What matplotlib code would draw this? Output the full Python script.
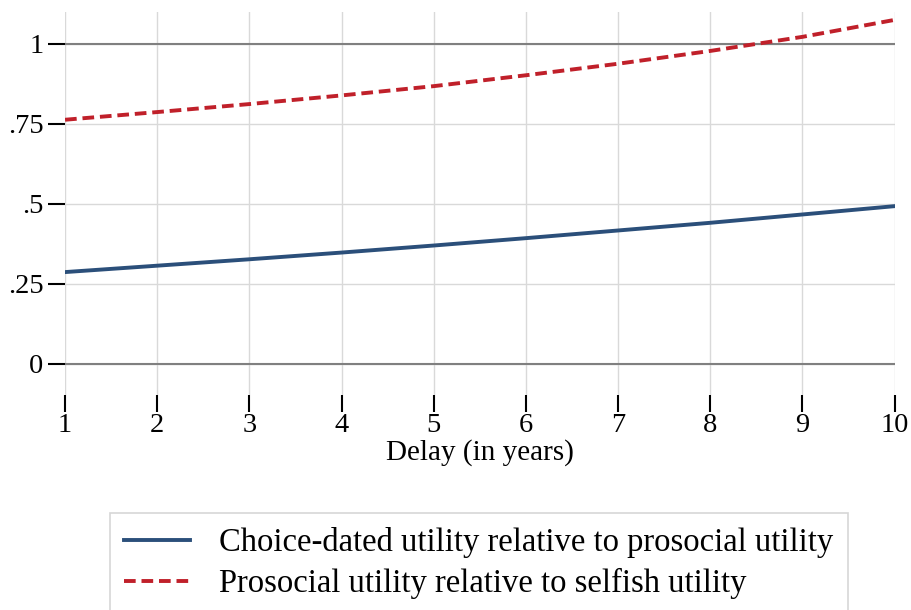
import matplotlib
matplotlib.use('Agg')
import matplotlib.pyplot as plt
import numpy as np

# delay in years
delay = [1, 2, 3, 4, 5, 6, 7, 8, 9, 10]
choice_rel_prosocial = [0.287, 0.307, 0.327, 0.348, 0.370, 0.393, 0.417, 0.441, 0.467, 0.493]
prosocial_rel_selfish = [0.763, 0.787, 0.812, 0.839, 0.868, 0.902, 0.938, 0.978, 1.022, 1.075]
yticks = [0, 0.25, 0.5, 0.75, 1]
ylabels = ['0', '.25', '.5', '.75', '1']

plt.rcParams['font.family'] = ['Liberation Serif', 'DejaVu Serif']

fig = plt.figure(figsize=(9.11, 6.10), dpi=100)
ax = fig.add_axes([0.0714, 0.3525, 0.9106, 0.628])

ax.set_xlim(1, 10)
ax.set_ylim(-0.097, 1.1)
ax.set_xticks(delay)
ax.set_yticks(yticks)
ax.set_yticklabels(ylabels)
ax.grid(True, color='#d9d9d9', linewidth=1)
ax.set_axisbelow(True)
for v in (0, 1):
    ax.axhline(v, color='#808080', linewidth=1.5, zorder=1)

ax.plot(delay, choice_rel_prosocial, color='#2b4f7a', linewidth=2.8,
        label='Choice-dated utility relative to prosocial utility', zorder=3)
ax.plot(delay, prosocial_rel_selfish, color='#c0202a', linewidth=2.8, linestyle=(0, (3, 1.5)),
        label='Prosocial utility relative to selfish utility', zorder=3)

for s in ax.spines.values():
    s.set_visible(False)
ax.tick_params(axis='both', direction='out', length=12, width=1.5, colors='black', labelsize=20.5)
ax.tick_params(axis='x', pad=1)
ax.set_xlabel('Delay (in years)', fontsize=21, labelpad=1)

leg = ax.legend(loc='upper left', bbox_to_anchor=(0.034, -0.265), ncol=1, frameon=True,
                fancybox=False, edgecolor='#cccccc', fontsize=23.5, handlelength=2.0,
                borderpad=0.45, labelspacing=0.3, handletextpad=0.9)
leg.get_frame().set_linewidth(1.2)

fig.savefig('out.png', dpi=100)
